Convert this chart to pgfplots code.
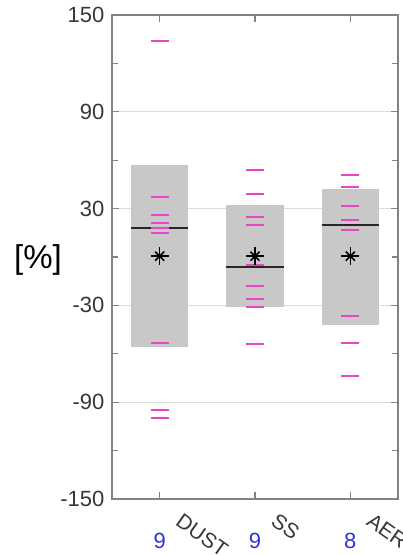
\documentclass[border=0pt]{standalone}
\usepackage{pgfplots}
\pgfplotsset{compat=1.18}
\usepackage{fontspec}
\setmainfont{Liberation Sans}
\definecolor{boxgray}{RGB}{200,200,200}
\definecolor{pinkmag}{RGB}{230,70,200}
\definecolor{axgray}{RGB}{130,130,130}
\definecolor{txtgray}{RGB}{55,55,55}
\definecolor{cntblue}{RGB}{50,50,220}
\definecolor{gridgray}{RGB}{220,220,220}
\begin{document}
\begin{tikzpicture}
\begin{axis}[
 scale only axis, width=143pt, height=242pt,
 xmin=-0.5, xmax=2.5, ymin=-150, ymax=150,
 xtick={0,1,2}, xticklabels={DUST,SS,AER},
 ytick={-150,-90,-30,30,90,150}, yticklabels={-150,-90,-30,30,90,150},
 minor ytick={-120,-60,0,60,120},
 ymajorgrids, grid style={gridgray, line width=0.5pt},
 tick align=inside, major tick length=3.5pt, minor tick length=3pt,
 axis line style={axgray, line width=0.8pt},
 tick style={axgray, line width=0.6pt},
 yticklabel style={font=\fontsize{11}{13}\selectfont, text=txtgray, xshift=-0.3pt},
 xticklabel style={font=\fontsize{10.5}{12}\selectfont, text=txtgray, rotate=-35, anchor=north west, xshift=10pt, yshift=4.5pt},
 clip=false,
]
% boxes
\addplot[fill=boxgray, draw=none] coordinates {(-0.3,-56) (0.3,-56) (0.3,57) (-0.3,57)} -- cycle;
\addplot[fill=boxgray, draw=none] coordinates {(0.7,-31) (1.3,-31) (1.3,32) (0.7,32)} -- cycle;
\addplot[fill=boxgray, draw=none] coordinates {(1.7,-42) (2.3,-42) (2.3,42) (1.7,42)} -- cycle;
% individual values
\addplot[only marks, mark=-, mark size=4.5pt, color=pinkmag, mark options={color=pinkmag, line width=1pt}] coordinates {
(0,134) (0,37) (0,26) (0,21) (0,18) (0,15) (0,-53) (0,-95) (0,-100)
(1,54) (1,39) (1,25) (1,20) (1,-5) (1,-18) (1,-26) (1,-31) (1,-54)
(2,51) (2,43.5) (2,31.5) (2,23) (2,17) (2,-36.5) (2,-53) (2,-74)};
% medians
\addplot[black!85, line width=1pt] coordinates {(-0.3,18) (0.3,18)};
\addplot[black!85, line width=1pt] coordinates {(0.7,-6) (1.3,-6)};
\addplot[black!85, line width=1pt] coordinates {(1.7,20) (2.3,20)};
% means
\addplot[only marks, mark=+, mark size=4.5pt, black, mark options={line width=0.8pt}] coordinates {(0,0.5) (1,0.5) (2,0.5)};
\addplot[only marks, mark=x, mark size=3.2pt, black, mark options={line width=0.8pt}] coordinates {(0,0.5) (1,0.5) (2,0.5)};
% counts
\node[text=cntblue, font=\fontsize{11}{13}\selectfont, yshift=-21pt] at (axis cs:0,-150) {9};
\node[text=cntblue, font=\fontsize{11}{13}\selectfont, yshift=-21pt] at (axis cs:1,-150) {9};
\node[text=cntblue, font=\fontsize{11}{13}\selectfont, yshift=-21pt] at (axis cs:2,-150) {8};
\node[font=\fontsize{16.5}{18}\selectfont, xshift=-37pt] at (axis cs:-0.5,-2) {[\%]};
\coordinate (ll) at (rel axis cs:0,0);
\coordinate (ur) at (rel axis cs:1,1);
\end{axis}
\pgfresetboundingbox
\path ([shift={(-56pt,-28pt)}]ll) rectangle ([shift={(2pt,7.5pt)}]ur);
\end{tikzpicture}
\end{document}
